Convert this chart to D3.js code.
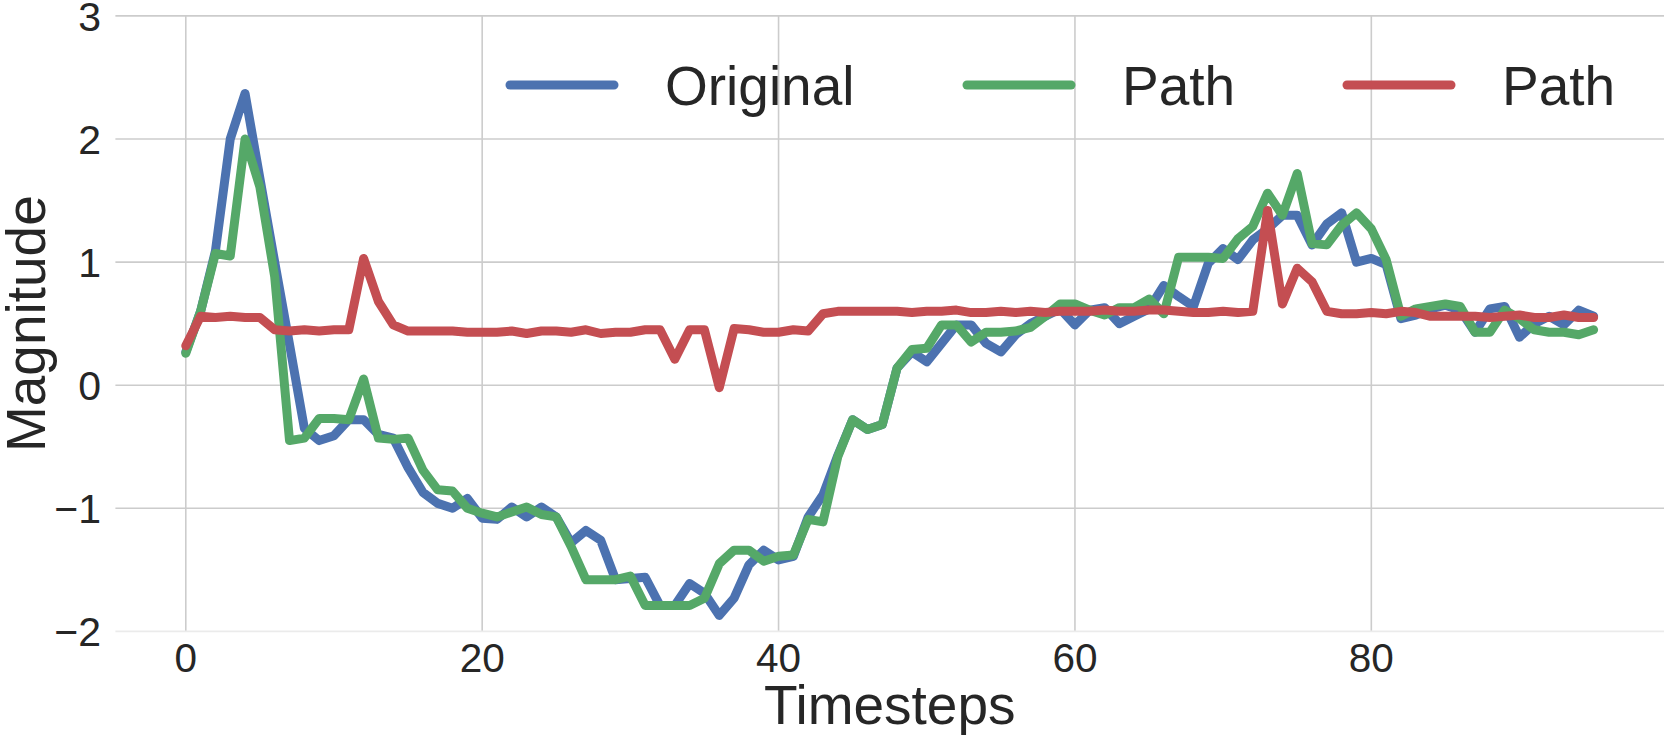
<!DOCTYPE html>
<html>
<head>
    <style>
        body { margin: 0; background: #fff; }
        svg text { font-family: Arial, "Liberation Sans", sans-serif; fill: #262626; }
        .grid line { stroke: #cccccc; stroke-width: 1.6; }
        .series { fill: none; stroke-width: 9; stroke-linejoin: round; stroke-linecap: round; }
    </style>
    <script src="https://d3js.org/d3.v7.min.js"></script>
</head>
<body>
    <svg width="1664" height="735"></svg>
    <script>
        // values, one per timestep 0..95
        var original = [0.27, 0.6, 1.09, 2.0, 2.37, 1.68, 1.0, 0.33, -0.35, -0.45,
            -0.41, -0.28, -0.28, -0.40, -0.43, -0.67, -0.87, -0.96, -1.0, -0.92,
            -1.08, -1.09, -0.99, -1.07, -0.99, -1.07, -1.28, -1.18, -1.26, -1.58,
            -1.57, -1.56, -1.79, -1.79, -1.61, -1.69, -1.87, -1.73, -1.46, -1.34,
            -1.42, -1.39, -1.07, -0.89, -0.57, -0.28, -0.36, -0.32, 0.14, 0.27,
            0.19, 0.34, 0.49, 0.49, 0.34, 0.27, 0.41, 0.50, 0.56, 0.62,
            0.49, 0.61, 0.63, 0.50, 0.56, 0.62, 0.81, 0.72, 0.64, 0.99,
            1.11, 1.02, 1.18, 1.27, 1.38, 1.38, 1.14, 1.31, 1.40, 1.00,
            1.03, 0.98, 0.54, 0.57, 0.62, 0.65, 0.61, 0.43, 0.62, 0.64,
            0.39, 0.50, 0.56, 0.49, 0.61, 0.56];

        var pathA = [0.26, 0.6, 1.07, 1.05, 2.0, 1.61, 0.88, -0.45, -0.43, -0.27,
            -0.27, -0.28, 0.05, -0.43, -0.44, -0.43, -0.69, -0.85, -0.86, -1.0,
            -1.04, -1.07, -1.03, -0.99, -1.05, -1.07, -1.31, -1.58, -1.58, -1.58,
            -1.55, -1.79, -1.79, -1.79, -1.79, -1.73, -1.45, -1.34, -1.34, -1.43,
            -1.39, -1.38, -1.09, -1.11, -0.58, -0.28, -0.36, -0.32, 0.14, 0.29,
            0.30, 0.49, 0.49, 0.35, 0.43, 0.43, 0.44, 0.47, 0.56, 0.66,
            0.66, 0.61, 0.57, 0.63, 0.63, 0.70, 0.58, 1.04, 1.04, 1.04,
            1.03, 1.19, 1.29, 1.56, 1.38, 1.72, 1.15, 1.14, 1.30, 1.40,
            1.27, 1.02, 0.56, 0.62, 0.64, 0.66, 0.64, 0.43, 0.43, 0.61,
            0.54, 0.45, 0.43, 0.43, 0.41, 0.45];

        var pathB = [0.32, 0.56, 0.55, 0.56, 0.55, 0.55, 0.45, 0.44, 0.45, 0.44,
            0.45, 0.45, 1.03, 0.68, 0.49, 0.44, 0.44, 0.44, 0.44, 0.43,
            0.43, 0.43, 0.44, 0.42, 0.44, 0.44, 0.43, 0.45, 0.42, 0.43,
            0.43, 0.45, 0.45, 0.21, 0.45, 0.45, -0.02, 0.46, 0.45, 0.43,
            0.43, 0.45, 0.44, 0.58, 0.60, 0.60, 0.60, 0.60, 0.60, 0.59,
            0.60, 0.60, 0.61, 0.59, 0.59, 0.60, 0.59, 0.60, 0.59, 0.60,
            0.60, 0.60, 0.61, 0.60, 0.60, 0.61, 0.61, 0.60, 0.59, 0.59,
            0.60, 0.59, 0.60, 1.42, 0.66, 0.95, 0.84, 0.60, 0.58, 0.58,
            0.59, 0.58, 0.60, 0.59, 0.56, 0.56, 0.56, 0.56, 0.55, 0.56,
            0.57, 0.55, 0.55, 0.57, 0.55, 0.55];

        var seriesNames = ["Original", "Path", "Path"];
        var seriesColors = ["#4c72b0", "#55a868", "#c44e52"];
        var xTicks = [0, 20, 40, 60, 80];
        var yTicks = [-2, -1, 0, 1, 2, 3];

        var svg = d3.select("svg"),
            plotLeft = 115.4, plotRight = 1664, plotTop = 15.9, plotBottom = 631.4;

        var x = d3.scaleLinear().domain([-4.75, 99.75]).range([plotLeft, plotRight]);
        var y = d3.scaleLinear().domain([-2, 3]).range([plotBottom, plotTop]);

        var grid = svg.append("g").attr("class", "grid");
        grid.selectAll(".gx").data(xTicks).enter().append("line")
            .attr("x1", function(d) { return x(d); })
            .attr("x2", function(d) { return x(d); })
            .attr("y1", plotTop).attr("y2", plotBottom);
        grid.selectAll(".gy").data(yTicks).enter().append("line")
            .attr("x1", plotLeft).attr("x2", plotRight)
            .attr("y1", function(d) { return y(d); })
            .attr("y2", function(d) { return y(d); })
            .style("stroke", function(d) { return d === -2 ? "#ebebeb" : null; });

        // tick labels
        svg.append("g").selectAll("text").data(xTicks).enter().append("text")
            .attr("x", function(d) { return x(d); })
            .attr("y", 672)
            .attr("text-anchor", "middle")
            .style("font-size", "40.5px")
            .text(function(d) { return d; });

        svg.append("g").selectAll("text").data(yTicks).enter().append("text")
            .attr("x", 101)
            .attr("y", function(d) { return y(d) + 14.7; })
            .attr("text-anchor", "end")
            .style("font-size", "41px")
            .text(function(d) { return d < 0 ? "\u2212" + Math.abs(d) : d; });

        // axis labels
        svg.append("text")
            .attr("x", (plotLeft + plotRight) / 2)
            .attr("y", 724)
            .attr("text-anchor", "middle")
            .style("font-size", "55px")
            .text("Timesteps");

        svg.append("text")
            .attr("transform", "translate(45," + (plotTop + plotBottom) / 2 + ") rotate(-90)")
            .attr("text-anchor", "middle")
            .style("font-size", "55px")
            .text("Magnitude");

        // lines
        var line = d3.line()
            .x(function(d, i) { return x(i); })
            .y(function(d) { return y(d); });

        svg.append("g").selectAll("path")
            .data([original, pathA, pathB])
            .enter().append("path")
            .attr("class", "series")
            .attr("stroke", function(d, i) { return seriesColors[i]; })
            .attr("d", line);

        // legend
        var legendX = [510, 967, 1347];
        var legend = svg.append("g").selectAll("g")
            .data(seriesNames).enter().append("g")
            .attr("transform", function(d, i) { return "translate(" + legendX[i] + ",85)"; });

        legend.append("line")
            .attr("x1", 0).attr("x2", 104)
            .attr("stroke", function(d, i) { return seriesColors[i]; })
            .attr("stroke-width", 9)
            .attr("stroke-linecap", "round");

        legend.append("text")
            .attr("x", 155)
            .attr("y", 20)
            .style("font-size", "55px")
            .text(function(d) { return d; });
    </script>
</body>
</html>
